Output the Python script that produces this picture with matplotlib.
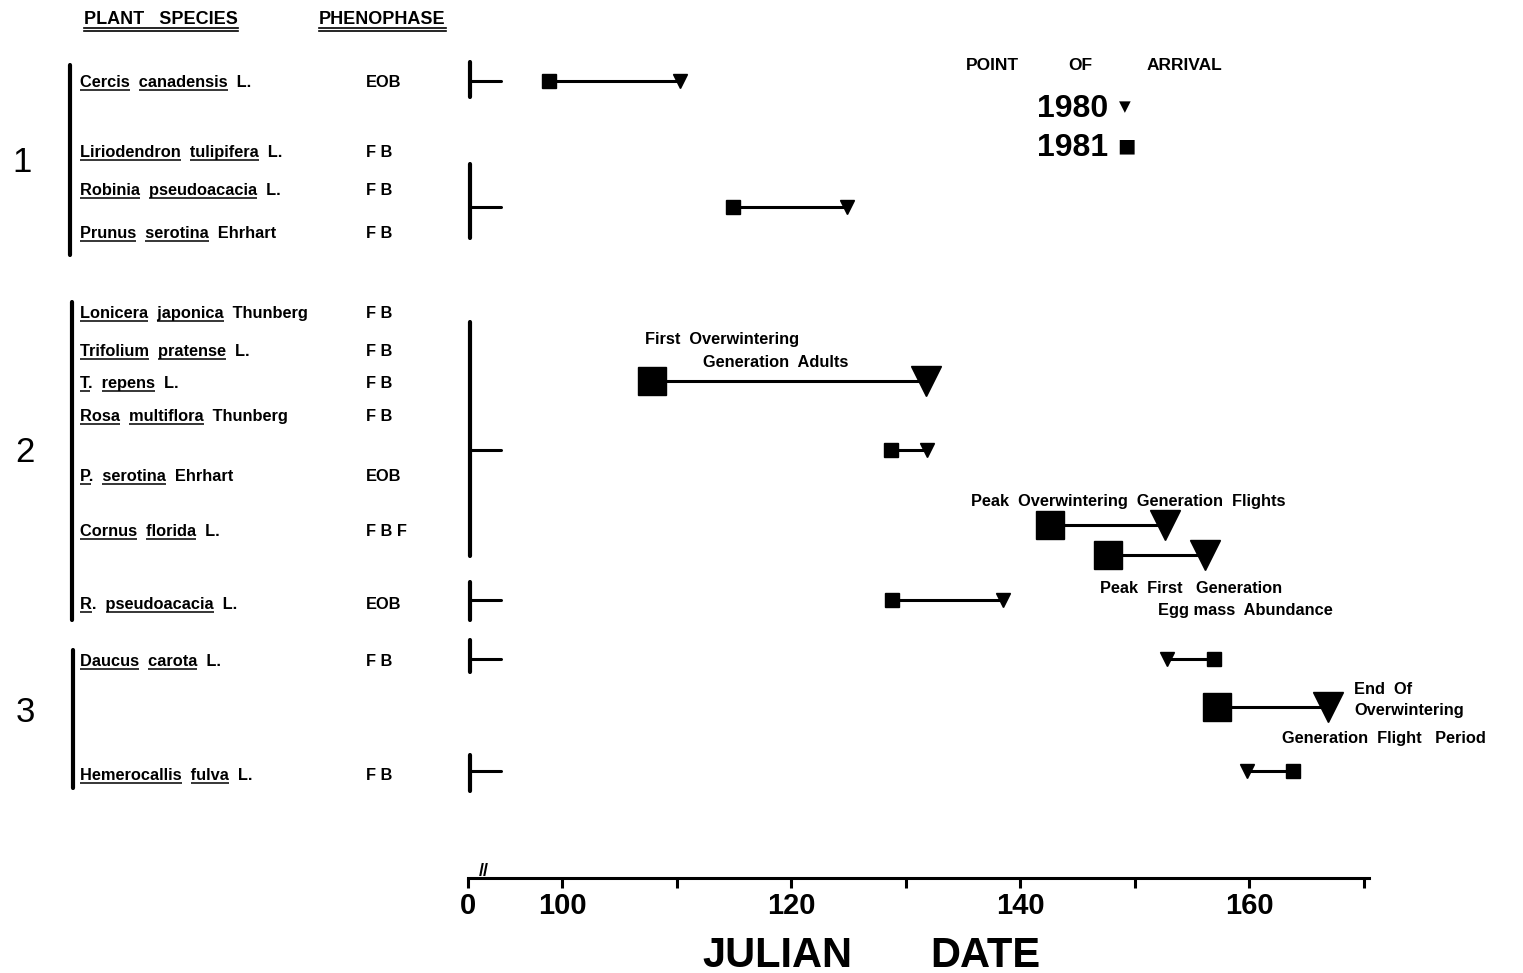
import matplotlib
matplotlib.use('Agg')
import matplotlib.pyplot as plt
from matplotlib import font_manager
from matplotlib.transforms import blended_transform_factory

W, H = 1523, 973

# left table
species = ['Cercis canadensis L.', 'Liriodendron tulipifera L.', 'Robinia pseudoacacia L.',
           'Prunus serotina Ehrhart', 'Lonicera japonica Thunberg', 'Trifolium pratense L.',
           'T. repens L.', 'Rosa multiflora Thunberg', 'P. serotina Ehrhart',
           'Cornus florida L.', 'R. pseudoacacia L.', 'Daucus carota L.', 'Hemerocallis fulva L.']
phenophase = ['EOB', 'FB', 'FB', 'FB', 'FB', 'FB', 'FB', 'FB', 'EOB', 'FBF', 'EOB', 'FB', 'FB']
groups = ['1', '2', '3']

# julian date of arrival, plant phenology rows
plant_1981 = [98.9, 114.9, 128.7, 128.8, 156.9, 163.8]
plant_1980 = [110.3, 124.9, 131.9, 138.5, 152.8, 159.8]

# insect events
event_names = [['First  Overwintering', 'Generation  Adults'],
               ['Peak  Overwintering  Generation  Flights'],
               ['Peak  First   Generation', 'Egg mass  Abundance'],
               ['End  Of', 'Overwintering', 'Generation  Flight   Period']]
event_1981 = [107.9, 142.6, 147.7, 157.2]
event_1980 = [131.8, 152.7, 156.2, 166.9]

xticks = [100, 110, 120, 130, 140, 150, 160, 170]
xticklabels = ['100', '', '120', '', '140', '', '160', '']

# ---- layout (pixel rows, top origin) ----
label_y = [87, 157, 195, 238, 318, 356, 388, 421, 481, 536, 609, 666, 780]
plant_y = [81, 207, 450, 600, 659, 771]
bracket_span = [(62, 97), (164, 238), (322, 556), (582, 620), (640, 672), (755, 791)]
event_y = [381, 525, 555, 707]
event_text = [[(645, 344), (703, 367)], [(971, 506)], [(1100, 593), (1158, 615)],
              [(1354, 694), (1354, 715), (1282, 743)]]
group_bar = [(70, 65, 255), (72, 302, 620), (73, 650, 788)]
group_pos = [(22, 162), (25, 452), (25, 712)]

names = {f.name for f in font_manager.fontManager.ttflist}
base = 'Liberation Sans' if 'Liberation Sans' in names else 'DejaVu Sans'
plt.rcParams['font.family'] = [base, 'DejaVu Sans']

fig = plt.figure(figsize=(W / 100, H / 100), dpi=100)
ax = fig.add_axes([0, 0, 1, 1])
px2day = lambda p: 100 + (p - 562) / 11.45
ax.set_xlim(px2day(0), px2day(W))
ax.set_ylim(H, 0)
bt = blended_transform_factory(ax.transAxes, ax.transData)
r = fig.canvas.get_renderer()

def text_w(s, **kw):
    t = fig.text(0, 0, s, **kw)
    w = t.get_window_extent(r).width
    t.remove()
    return w

lbl_kw = dict(fontsize=11.8, fontweight='bold', family=base)
for s, ph, y in zip(species, phenophase, label_y):
    words = s.split(' ')
    ax.text(80 / W, y, '  '.join(words), transform=bt, va='baseline', ha='left', **lbl_kw)
    ax.text(366 / W, y, ' '.join(ph) if ph != 'EOB' else ph, transform=bt, va='baseline',
            ha='left', **lbl_kw)
    for i in range(2):
        end = text_w('  '.join(words[:i + 1]).rstrip('.'), **lbl_kw)
        ww = text_w(words[i].rstrip('.'), **lbl_kw)
        ax.plot([(80 + end - ww) / W, (80 + end) / W], [y + 3, y + 3], transform=bt,
                color='black', lw=1.1, solid_capstyle='butt')

# headers with double underline
hdr_kw = dict(fontsize=13, fontweight='bold', family=base)
for s, x0 in [('PLANT   SPECIES', 84), ('PHENOPHASE', 319)]:
    ax.text(x0 / W, 24, s, transform=bt, va='baseline', **hdr_kw)
    w = text_w(s, **hdr_kw)
    for dy in (4, 7):
        ax.plot([x0 / W, (x0 + w) / W], [24 + dy, 24 + dy], transform=bt, color='black', lw=1.2)

# group brackets and numbers
for (bx, y0, y1), (gx, gy), g in zip(group_bar, group_pos, groups):
    ax.plot([bx / W, bx / W], [y0, y1], transform=bt, color='black', lw=3, solid_capstyle='round')
    ax.text(gx / W, gy, g, transform=bt, ha='center', va='center', fontsize=25, family=base)

# brackets at axis start
bx0, bx1 = px2day(470), px2day(501)
for (y0, y1), yc in zip(bracket_span, plant_y):
    ax.plot([bx0, bx0], [y0, y1], color='black', lw=3, solid_capstyle='round')
    ax.plot([bx0, bx1], [yc, yc], color='black', lw=2.2, solid_capstyle='round')

# plant arrival pairs
for a81, a80, y in zip(plant_1981, plant_1980, plant_y):
    ax.plot([a81, a80], [y, y], color='black', lw=2.2)
    ax.plot(a81, y, marker='s', ms=10, color='black', ls='none')
    ax.plot(a80, y, marker='v', ms=10, color='black', ls='none')

# insect events (large markers)
for e81, e80, y, lines, pos in zip(event_1981, event_1980, event_y, event_names, event_text):
    ax.plot([e81, e80], [y, y], color='black', lw=2.2)
    ax.plot(e81, y, marker='s', ms=20, color='black', ls='none')
    ax.plot(e80, y, marker='v', ms=22, color='black', ls='none')
    for s, (tx, ty) in zip(lines, pos):
        ax.text(tx / W, ty, s, transform=bt, va='baseline', **lbl_kw)

# legend
leg_kw = dict(fontsize=12.5, fontweight='bold', family=base)
ax.text(966 / W, 70, 'POINT', transform=bt, va='baseline', **leg_kw)
ax.text(1068 / W, 70, 'OF', transform=bt, va='baseline', **leg_kw)
ax.text(1147 / W, 70, 'ARRIVAL', transform=bt, va='baseline', **leg_kw)
ax.text(1108 / W, 117, '1980', transform=bt, ha='right', va='baseline', fontsize=23,
        fontweight='bold', family=base)
ax.text(1108 / W, 156, '1981', transform=bt, ha='right', va='baseline', fontsize=23,
        fontweight='bold', family=base)
ax.text(1125 / W, 107, '\u25bc', transform=bt, ha='center', va='center', fontsize=11,
        family='DejaVu Sans')
ax.text(1126 / W, 146, '\u25a0', transform=bt, ha='center', va='center', fontsize=14,
        family='DejaVu Sans')

# x axis
for sp in ['top', 'left', 'right']:
    ax.spines[sp].set_visible(False)
ax.spines['bottom'].set_position(('data', 878))
ax.spines['bottom'].set_bounds(px2day(468), px2day(1369))
ax.spines['bottom'].set_linewidth(2.2)
ax.set_yticks([])
ax.set_xticks([px2day(468)] + xticks)
ax.set_xticklabels(['0'] + xticklabels, fontsize=21, fontweight='bold', family=base)
ax.tick_params(axis='x', direction='out', length=7, width=2.2, pad=3)
ax.text(px2day(484), 872, '//', ha='center', va='center', fontsize=13, fontweight='bold')
ax.text(px2day(777), 956, 'JULIAN', ha='center', va='center', fontsize=30, fontweight='bold')
ax.text(px2day(985), 956, 'DATE', ha='center', va='center', fontsize=30, fontweight='bold')

fig.savefig('out.png', dpi=100)
